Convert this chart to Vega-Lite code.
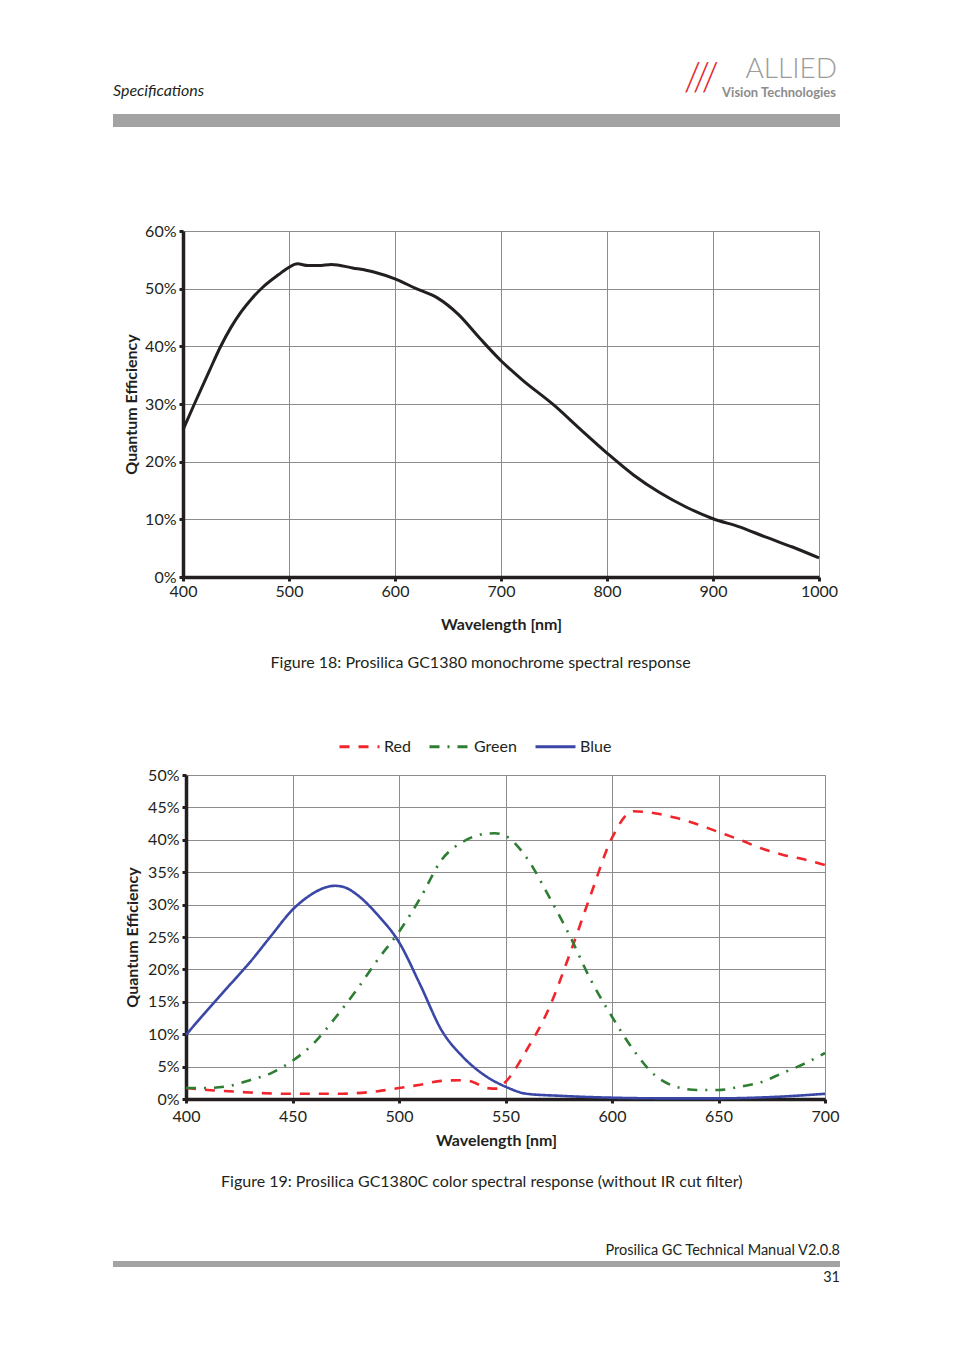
{
  "$schema": "https://vega.github.io/schema/vega-lite/v6.json",
  "padding": {"left": 113, "top": 56, "right": 114, "bottom": 60},
  "autosize": {"type": "pad"},
  "background": "white",
  "config": {
    "font": "Lato",
    "view": {"stroke": "#9a9a9a", "strokeWidth": 1},
    "axis": {
      "labelFont": "Lato", "labelFontSize": 16, "labelColor": "#231f20",
      "titleFont": "Lato", "titleFontSize": 16, "titleFontWeight": "bold", "titleColor": "#231f20",
      "domainColor": "#231f20", "domainWidth": 3.5,
      "tickColor": "#231f20", "tickWidth": 3, "tickSize": 4,
      "gridColor": "#8c8c8c", "gridWidth": 1, "gridOpacity": 1,
      "labelFlush": false
    },
    "title": {"font": "Lato", "fontSize": 16, "fontWeight": "normal", "color": "#231f20"},
    "legend": {"labelFont": "Lato", "labelFontSize": 16, "labelColor": "#231f20"}
  },
  "datasets": {
    "logo": [
      {"part": "spec", "text": "Specifications"},
      {"part": "slashes", "text": "///"},
      {"part": "name", "text": "ALLIED"},
      {"part": "sub", "text": "Vision Technologies"}
    ],
    "foot": [
      {"part": "manual", "text": "Prosilica GC Technical Manual V2.0.8"},
      {"part": "page", "text": "31"}
    ],
    "mono": [
      {"wl": 400, "qe": 0.255}, {"wl": 410, "qe": 0.297}, {"wl": 425, "qe": 0.358}, {"wl": 435, "qe": 0.398},
      {"wl": 445, "qe": 0.432}, {"wl": 455, "qe": 0.460}, {"wl": 465, "qe": 0.483}, {"wl": 475, "qe": 0.502},
      {"wl": 490, "qe": 0.524}, {"wl": 500, "qe": 0.537}, {"wl": 508, "qe": 0.543}, {"wl": 518, "qe": 0.540},
      {"wl": 528, "qe": 0.540}, {"wl": 540, "qe": 0.542}, {"wl": 560, "qe": 0.536}, {"wl": 580, "qe": 0.529},
      {"wl": 600, "qe": 0.517}, {"wl": 620, "qe": 0.500}, {"wl": 640, "qe": 0.484}, {"wl": 660, "qe": 0.455},
      {"wl": 680, "qe": 0.414}, {"wl": 700, "qe": 0.375}, {"wl": 720, "qe": 0.342}, {"wl": 750, "qe": 0.298},
      {"wl": 775, "qe": 0.256}, {"wl": 800, "qe": 0.215}, {"wl": 825, "qe": 0.177}, {"wl": 850, "qe": 0.146},
      {"wl": 875, "qe": 0.121}, {"wl": 900, "qe": 0.101}, {"wl": 925, "qe": 0.087}, {"wl": 950, "qe": 0.069},
      {"wl": 975, "qe": 0.052}, {"wl": 1000, "qe": 0.033}
    ],
    "color": [
      {"series": "Red", "wl": 400, "qe": 0.017}, {"series": "Red", "wl": 410, "qe": 0.014},
      {"series": "Red", "wl": 420, "qe": 0.012}, {"series": "Red", "wl": 430, "qe": 0.010},
      {"series": "Red", "wl": 450, "qe": 0.008}, {"series": "Red", "wl": 470, "qe": 0.008},
      {"series": "Red", "wl": 490, "qe": 0.012}, {"series": "Red", "wl": 500, "qe": 0.017},
      {"series": "Red", "wl": 510, "qe": 0.022}, {"series": "Red", "wl": 520, "qe": 0.028},
      {"series": "Red", "wl": 530, "qe": 0.029}, {"series": "Red", "wl": 535, "qe": 0.026},
      {"series": "Red", "wl": 541, "qe": 0.017}, {"series": "Red", "wl": 546, "qe": 0.016},
      {"series": "Red", "wl": 551, "qe": 0.030}, {"series": "Red", "wl": 560, "qe": 0.076},
      {"series": "Red", "wl": 570, "qe": 0.137}, {"series": "Red", "wl": 580, "qe": 0.222},
      {"series": "Red", "wl": 590, "qe": 0.315}, {"series": "Red", "wl": 600, "qe": 0.403},
      {"series": "Red", "wl": 610, "qe": 0.444}, {"series": "Red", "wl": 620, "qe": 0.441},
      {"series": "Red", "wl": 630, "qe": 0.434}, {"series": "Red", "wl": 640, "qe": 0.424},
      {"series": "Red", "wl": 650, "qe": 0.412}, {"series": "Red", "wl": 660, "qe": 0.400},
      {"series": "Red", "wl": 670, "qe": 0.387}, {"series": "Red", "wl": 680, "qe": 0.377},
      {"series": "Red", "wl": 690, "qe": 0.370}, {"series": "Red", "wl": 700, "qe": 0.361},
      {"series": "Green", "wl": 400, "qe": 0.017}, {"series": "Green", "wl": 410, "qe": 0.017},
      {"series": "Green", "wl": 420, "qe": 0.020}, {"series": "Green", "wl": 430, "qe": 0.029},
      {"series": "Green", "wl": 440, "qe": 0.040}, {"series": "Green", "wl": 450, "qe": 0.059},
      {"series": "Green", "wl": 460, "qe": 0.086}, {"series": "Green", "wl": 470, "qe": 0.125},
      {"series": "Green", "wl": 480, "qe": 0.168}, {"series": "Green", "wl": 490, "qe": 0.215},
      {"series": "Green", "wl": 500, "qe": 0.258}, {"series": "Green", "wl": 510, "qe": 0.310},
      {"series": "Green", "wl": 520, "qe": 0.369}, {"series": "Green", "wl": 530, "qe": 0.397},
      {"series": "Green", "wl": 540, "qe": 0.409}, {"series": "Green", "wl": 545, "qe": 0.410},
      {"series": "Green", "wl": 550, "qe": 0.406}, {"series": "Green", "wl": 560, "qe": 0.372},
      {"series": "Green", "wl": 570, "qe": 0.315}, {"series": "Green", "wl": 580, "qe": 0.253},
      {"series": "Green", "wl": 590, "qe": 0.184}, {"series": "Green", "wl": 600, "qe": 0.127},
      {"series": "Green", "wl": 610, "qe": 0.076}, {"series": "Green", "wl": 620, "qe": 0.037},
      {"series": "Green", "wl": 630, "qe": 0.019}, {"series": "Green", "wl": 640, "qe": 0.014},
      {"series": "Green", "wl": 650, "qe": 0.014}, {"series": "Green", "wl": 660, "qe": 0.019},
      {"series": "Green", "wl": 670, "qe": 0.026}, {"series": "Green", "wl": 680, "qe": 0.040},
      {"series": "Green", "wl": 690, "qe": 0.054}, {"series": "Green", "wl": 700, "qe": 0.071},
      {"series": "Blue", "wl": 400, "qe": 0.099}, {"series": "Blue", "wl": 410, "qe": 0.137},
      {"series": "Blue", "wl": 420, "qe": 0.174}, {"series": "Blue", "wl": 430, "qe": 0.211},
      {"series": "Blue", "wl": 440, "qe": 0.252}, {"series": "Blue", "wl": 450, "qe": 0.292},
      {"series": "Blue", "wl": 460, "qe": 0.318}, {"series": "Blue", "wl": 465, "qe": 0.326},
      {"series": "Blue", "wl": 470, "qe": 0.329}, {"series": "Blue", "wl": 475, "qe": 0.326},
      {"series": "Blue", "wl": 480, "qe": 0.316}, {"series": "Blue", "wl": 490, "qe": 0.284},
      {"series": "Blue", "wl": 500, "qe": 0.242}, {"series": "Blue", "wl": 510, "qe": 0.176},
      {"series": "Blue", "wl": 520, "qe": 0.106}, {"series": "Blue", "wl": 530, "qe": 0.065},
      {"series": "Blue", "wl": 540, "qe": 0.037}, {"series": "Blue", "wl": 550, "qe": 0.019},
      {"series": "Blue", "wl": 560, "qe": 0.008}, {"series": "Blue", "wl": 575, "qe": 0.005},
      {"series": "Blue", "wl": 600, "qe": 0.002}, {"series": "Blue", "wl": 625, "qe": 0.001},
      {"series": "Blue", "wl": 650, "qe": 0.001}, {"series": "Blue", "wl": 675, "qe": 0.003},
      {"series": "Blue", "wl": 700, "qe": 0.008}
    ]
  },
  "spacing": 0,
  "resolve": {
    "scale": {"color": "independent", "strokeDash": "independent"},
    "legend": {"color": "independent", "strokeDash": "independent"}
  },
  "vconcat": [
    {
      "width": 727, "height": 13,
      "view": {"fill": "#a3a3a3", "stroke": null},
      "data": {"name": "logo"},
      "layer": [
        {
          "transform": [{"filter": "datum.part === 'spec'"}],
          "mark": {"type": "text", "align": "left", "baseline": "alphabetic", "dy": -18, "fontSize": 16, "fontStyle": "italic", "color": "#231f20"},
          "encoding": {"text": {"field": "text"}, "x": {"value": 0}, "y": {"value": 0}}
        },
        {
          "transform": [{"filter": "datum.part === 'slashes'"}],
          "mark": {"type": "text", "align": "right", "baseline": "alphabetic", "dx": -121, "dy": -23, "fontSize": 40, "fontWeight": 300, "color": "#e3262e"},
          "encoding": {"text": {"field": "text"}, "x": {"value": "width"}, "y": {"value": 0}}
        },
        {
          "transform": [{"filter": "datum.part === 'name'"}],
          "mark": {"type": "text", "align": "right", "baseline": "alphabetic", "dx": -3, "dy": -36, "fontSize": 28, "fontWeight": 300, "color": "#9b9b9b"},
          "encoding": {"text": {"field": "text"}, "x": {"value": "width"}, "y": {"value": 0}}
        },
        {
          "transform": [{"filter": "datum.part === 'sub'"}],
          "mark": {"type": "text", "align": "right", "baseline": "alphabetic", "dx": -4, "dy": -17, "fontSize": 13, "fontWeight": "bold", "color": "#8c8c8c"},
          "encoding": {"text": {"field": "text"}, "x": {"value": "width"}, "y": {"value": 0}}
        }
      ]
    },
    {
      "width": 1, "height": 95, "view": {"stroke": null},
      "data": {"values": [{}]}, "mark": {"type": "text"}, "encoding": {"text": {"value": ""}}
    },
    {
      "bounds": "flush",
      "spacing": 0,
      "hconcat": [
        {
          "width": 70, "height": 1, "view": {"stroke": null},
          "data": {"values": [{}]}, "mark": {"type": "text"}, "encoding": {"text": {"value": ""}}
        },
        {
          "width": 636, "height": 346,
          "data": {"name": "mono"},
          "mark": {"type": "line", "color": "#231f20", "strokeWidth": 3, "interpolate": "monotone"},
          "encoding": {
            "x": {"field": "wl", "type": "quantitative", "scale": {"domain": [400, 1000], "nice": false},
                  "axis": {"values": [400, 500, 600, 700, 800, 900, 1000], "format": "d", "title": "Wavelength [nm]", "labelPadding": 2, "titlePadding": 17}},
            "y": {"field": "qe", "type": "quantitative", "scale": {"domain": [0, 0.6], "nice": false},
                  "axis": {"values": [0, 0.1, 0.2, 0.3, 0.4, 0.5, 0.6], "format": ".0%", "title": "Quantum Efficiency", "labelPadding": 3, "titlePadding": 5}}
          },
          "title": {"text": "Figure 18: Prosilica GC1380 monochrome spectral response", "orient": "bottom", "anchor": "middle", "frame": "bounds", "offset": 23}
        }
      ]
    },
    {
      "width": 1, "height": 52, "view": {"stroke": null},
      "data": {"values": [{}]}, "mark": {"type": "text"}, "encoding": {"text": {"value": ""}}
    },
    {
      "bounds": "flush",
      "spacing": 0,
      "resolve": {
        "scale": {"color": "independent", "strokeDash": "independent"},
        "legend": {"color": "independent", "strokeDash": "independent"}
      },
      "hconcat": [
        {
          "width": 73, "height": 1, "view": {"stroke": null},
          "data": {"values": [{}]}, "mark": {"type": "text"}, "encoding": {"text": {"value": ""}}
        },
        {
          "width": 639, "height": 324,
          "data": {"name": "color"},
          "mark": {"type": "line", "strokeWidth": 2.6, "interpolate": "monotone"},
          "encoding": {
            "x": {"field": "wl", "type": "quantitative", "scale": {"domain": [400, 700], "nice": false},
                  "axis": {"values": [400, 450, 500, 550, 600, 650, 700], "format": "d", "title": "Wavelength [nm]", "titleX": 310, "labelPadding": 5, "titlePadding": 8}},
            "y": {"field": "qe", "type": "quantitative", "scale": {"domain": [0, 0.5], "nice": false},
                  "axis": {"values": [0, 0.05, 0.1, 0.15, 0.2, 0.25, 0.3, 0.35, 0.4, 0.45, 0.5], "format": ".0%", "title": "Quantum Efficiency", "labelPadding": 3, "titlePadding": 7}},
            "color": {"field": "series", "type": "nominal",
                      "scale": {"domain": ["Red", "Green", "Blue"], "range": ["#f0262c", "#2e7d32", "#3a47a6"]},
                      "legend": {"orient": "none", "legendX": 152, "legendY": -50, "direction": "horizontal", "title": null,
                                 "symbolType": "stroke", "symbolSize": 1600, "symbolStrokeWidth": 3, "labelOffset": 3, "columnPadding": 12}},
            "strokeDash": {"field": "series", "type": "nominal",
                           "scale": {"domain": ["Red", "Green", "Blue"], "range": [[10, 9], [10, 8, 2, 8], [1, 0]]},
                           "legend": {"orient": "none", "legendX": 152, "legendY": -50, "direction": "horizontal", "title": null,
                                      "symbolType": "stroke", "symbolSize": 1600, "symbolStrokeWidth": 3, "labelOffset": 3, "columnPadding": 12}}
          },
          "title": {"text": "Figure 19: Prosilica GC1380C color spectral response (without IR cut filter)", "orient": "bottom", "anchor": "middle", "frame": "bounds", "offset": 26}
        }
      ]
    },
    {
      "width": 1, "height": 52, "view": {"stroke": null},
      "data": {"values": [{}]}, "mark": {"type": "text"}, "encoding": {"text": {"value": ""}}
    },
    {
      "width": 727, "height": 6,
      "view": {"fill": "#a3a3a3", "stroke": null},
      "data": {"name": "foot"},
      "layer": [
        {
          "transform": [{"filter": "datum.part === 'manual'"}],
          "mark": {"type": "text", "align": "right", "baseline": "alphabetic", "dy": -6, "fontSize": 14.5, "color": "#231f20"},
          "encoding": {"text": {"field": "text"}, "x": {"value": "width"}, "y": {"value": 0}}
        },
        {
          "transform": [{"filter": "datum.part === 'page'"}],
          "mark": {"type": "text", "align": "right", "baseline": "alphabetic", "dy": 15, "fontSize": 14.5, "color": "#231f20"},
          "encoding": {"text": {"field": "text"}, "x": {"value": "width"}, "y": {"value": "height"}}
        }
      ]
    }
  ]
}
